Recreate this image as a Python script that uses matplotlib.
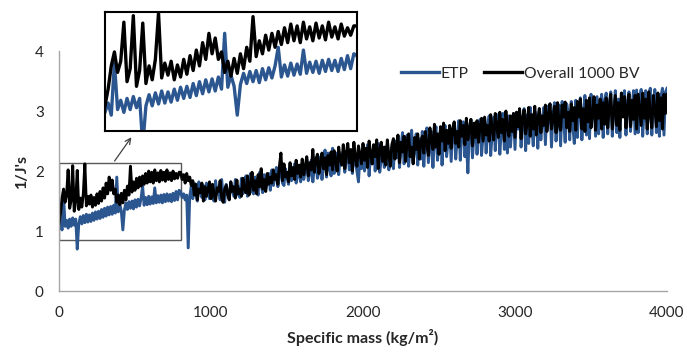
import numpy as np
import matplotlib
matplotlib.use("Agg")
import matplotlib.pyplot as plt
from matplotlib.patches import Rectangle

plt.rcParams['font.family'] = ['Lato', 'DejaVu Sans']

# specific mass sampled every 10 kg/m2
mass = np.arange(0, 4001, 10)

etp_early = [
    1.05, 1.15, 1.02, 1.58, 1.08, 1.18, 1.05, 1.20, 1.08, 1.22,
    1.10, 1.20, 0.70, 1.12, 1.24, 1.12, 1.26, 1.14, 1.28, 1.15,
    1.27, 1.16, 1.30, 1.18, 1.32, 1.20, 1.33, 1.21, 1.36, 1.23,
    1.38, 1.25, 1.40, 1.27, 1.41, 1.28, 1.43, 1.30, 1.90, 1.32,
    1.45, 1.33, 1.02, 1.35, 1.47, 1.36, 1.49, 1.38, 1.50, 1.37,
    1.52, 1.40, 1.53, 1.42, 1.55, 1.75, 1.43, 1.56, 1.44, 1.58,
    1.45, 1.57, 1.46, 1.72, 1.47, 1.59, 1.48, 1.60, 1.47, 1.61,
    1.49, 1.62, 1.50, 1.61, 1.49, 1.63, 1.51, 1.66, 1.52, 1.68,
]
etp_late = [
    1.66, 1.56, 1.62, 1.52, 1.60, 0.72, 1.58, 1.74, 1.54, 1.80, 1.62, 1.50, 1.82, 1.68, 1.56, 1.76, 1.52, 1.80, 1.64, 1.54,
    1.76, 1.56, 1.50, 1.84, 1.62, 1.70, 1.52, 1.86, 1.58, 1.48, 1.78, 1.64, 1.54, 1.82, 1.70, 1.58, 1.86, 1.60, 1.74, 1.56,
    1.88, 1.62, 1.74, 1.92, 1.58, 1.80, 1.96, 1.66, 1.62, 1.90, 1.72, 1.60, 1.98, 1.76, 1.64, 1.94, 1.70, 1.82, 1.96, 1.68,
    2.02, 1.76, 1.88, 2.06, 1.74, 1.94, 2.08, 1.80, 1.76, 2.04, 1.90, 1.78, 2.10, 1.84, 1.96, 2.12, 1.80, 1.92, 2.08, 1.82,
    2.14, 1.86, 2.00, 2.20, 1.84, 1.96, 2.18, 1.82, 2.06, 2.22, 1.88, 1.98, 2.24, 1.86, 2.12, 2.35, 1.90, 2.30, 2.04, 1.92,
    2.38, 1.96, 2.16, 2.30, 1.94, 2.24, 2.10, 2.32, 1.98, 2.20, 2.36, 2.02, 2.28, 1.96, 2.34, 2.14, 2.00, 1.82, 2.26, 2.04,
    2.38, 2.00, 2.22, 2.44, 1.92, 2.30, 2.12, 2.42, 2.00, 2.34, 2.46, 1.98, 2.20, 2.40, 2.06, 2.32, 2.44, 2.02, 2.26, 2.40,
    2.04, 2.50, 2.22, 2.58, 2.06, 2.40, 2.64, 2.12, 2.30, 2.60, 2.08, 2.48, 2.68, 2.14, 2.36, 2.62, 2.10, 2.54, 2.20, 2.66,
    2.08, 2.52, 2.72, 2.14, 2.40, 2.66, 2.06, 2.56, 2.74, 2.18, 2.46, 2.70, 2.10, 2.62, 2.76, 2.24, 2.50, 2.72, 2.16, 2.68,
    2.80, 2.20, 2.56, 2.84, 2.18, 2.66, 2.82, 2.24, 2.50, 1.97, 2.74, 2.86, 2.22, 2.60, 2.80, 2.28, 2.70, 2.86, 2.26, 2.62,
    2.88, 2.30, 2.74, 2.92, 2.26, 2.64, 2.90, 2.34, 2.80, 2.94, 2.28, 2.70, 2.96, 2.36, 2.84, 2.30, 2.92, 2.40, 2.78, 2.96,
    2.36, 2.98, 2.70, 3.02, 2.40, 2.86, 3.04, 2.34, 2.94, 2.46, 3.06, 2.76, 2.42, 3.00, 2.90, 2.38, 3.04, 2.52, 2.88, 3.06,
    2.44, 3.08, 2.80, 3.12, 2.40, 2.96, 3.14, 2.50, 2.88, 3.10, 2.42, 3.16, 2.84, 2.48, 3.12, 2.98, 2.52, 3.16, 2.76, 2.46,
    3.18, 2.56, 3.02, 3.22, 2.52, 2.94, 3.26, 2.60, 3.10, 2.54, 3.28, 2.88, 3.20, 2.58, 3.24, 2.62, 3.06, 3.28, 2.56, 3.18,
    3.30, 2.62, 3.12, 3.32, 2.58, 3.00, 3.34, 2.64, 3.20, 2.56, 3.30, 2.96, 3.34, 2.60, 3.16, 3.32, 2.66, 3.08, 3.34, 2.62,
    3.35, 2.64, 3.18, 3.36, 2.58, 3.04, 3.34, 2.62, 3.26, 3.38, 2.60, 3.12, 3.36, 2.64, 3.30, 2.58, 3.24, 3.38, 2.60, 3.32,
    3.38,
]

bv_early = [
    1.12, 1.30, 1.55, 1.70, 1.48, 1.60, 2.02, 1.38, 1.52, 2.09,
    1.33, 1.50, 2.01, 1.36, 1.55, 1.40, 1.62, 2.12, 1.42, 1.58,
    1.45, 1.60, 1.40, 1.56, 1.43, 1.62, 1.46, 1.66, 1.50, 1.72,
    1.55, 1.80, 1.62, 1.90, 1.68, 1.85, 1.62, 1.70, 1.48, 1.60,
    1.44, 1.63, 1.47, 1.68, 1.52, 1.75, 1.60, 2.08, 1.65, 1.82,
    1.68, 1.88, 1.72, 1.90, 1.75, 1.92, 1.78, 1.96, 1.80, 2.00,
    1.82, 1.98, 1.80, 2.02, 1.84, 1.97, 1.82, 2.01, 1.85, 1.98,
    1.83, 2.02, 1.86, 1.97, 1.84, 2.00, 1.87, 1.96, 1.88, 1.98,
]
bv_late = [
    1.98, 1.86, 1.94, 1.80, 1.96, 1.84, 1.90, 1.76, 1.84, 1.60, 1.78, 1.52, 1.70, 1.64, 1.80, 1.50, 1.74, 1.58, 1.68, 1.82,
    1.54, 1.78, 1.62, 1.50, 1.72, 1.66, 1.84, 1.56, 1.48, 1.70, 1.76, 1.60, 1.52, 1.82, 1.66, 1.74, 1.55, 1.85, 1.62, 1.70,
    1.58, 1.88, 1.70, 1.64, 1.92, 1.60, 1.76, 1.98, 1.68, 1.84, 1.62, 1.94, 1.74, 2.04, 1.70, 1.86, 1.66, 1.96, 1.78, 1.90,
    1.80, 2.02, 1.86, 1.94, 1.78, 2.08, 2.30, 1.84, 2.12, 1.90, 1.98, 1.82, 2.14, 1.92, 2.06, 1.86, 2.18, 1.96, 2.10, 1.90,
    2.20, 1.94, 2.08, 2.24, 1.92, 2.14, 2.02, 2.36, 1.98, 2.18, 2.28, 1.96, 2.12, 2.30, 2.04, 2.22, 1.94, 2.26, 2.10, 2.32,
    2.02, 2.34, 2.16, 2.00, 2.40, 2.20, 2.10, 2.44, 2.04, 2.30, 2.46, 2.14, 2.36, 2.00, 2.48, 2.22, 2.08, 2.42, 2.28, 2.12,
    2.46, 2.18, 2.38, 2.06, 2.50, 2.30, 2.12, 2.44, 2.24, 2.52, 2.04, 2.36, 2.48, 2.16, 2.40, 2.10, 2.52, 2.26, 2.08, 2.44,
    2.54, 2.20, 2.42, 2.60, 2.14, 2.48, 2.32, 2.58, 2.16, 2.50, 2.62, 2.24, 2.40, 2.12, 2.56, 2.36, 2.62, 2.20, 2.48, 2.58,
    2.30, 2.66, 2.44, 2.26, 2.72, 2.52, 2.36, 2.78, 2.40, 2.62, 2.28, 2.74, 2.50, 2.80, 2.34, 2.68, 2.46, 2.76, 2.38, 2.70,
    2.82, 2.46, 2.66, 2.40, 2.84, 2.58, 2.76, 2.44, 2.88, 2.52, 2.70, 2.86, 2.42, 2.80, 2.56, 2.84, 2.48, 2.74, 2.88, 2.50,
    2.90, 2.60, 2.76, 2.50, 2.94, 2.68, 2.52, 2.96, 2.74, 2.56, 2.98, 2.64, 2.86, 2.50, 3.00, 2.72, 2.58, 2.92, 2.66, 2.96,
    2.56, 2.98, 2.74, 3.04, 2.54, 2.88, 3.02, 2.62, 2.80, 3.06, 2.58, 2.94, 2.70, 3.08, 2.60, 2.86, 3.04, 2.64, 2.92, 2.76,
    3.10, 2.66, 2.94, 3.12, 2.70, 2.86, 3.08, 2.64, 3.14, 2.78, 2.68, 3.10, 2.90, 3.15, 2.72, 2.98, 2.66, 3.12, 2.84, 3.06,
    2.68, 3.16, 2.90, 3.20, 2.70, 3.04, 2.66, 3.18, 2.82, 3.22, 2.72, 2.96, 3.24, 2.68, 3.10, 2.88, 3.20, 2.70, 3.14, 2.78,
    3.22, 2.72, 3.08, 3.28, 2.70, 2.98, 3.26, 2.76, 3.14, 2.68, 3.30, 2.90, 3.24, 2.72, 3.06, 3.28, 2.74, 3.18, 2.86, 3.26,
    2.70, 3.28, 3.02, 2.76, 3.30, 2.88, 3.20, 2.70, 3.32, 2.94, 2.72, 3.26, 3.06, 2.74, 3.30, 2.84, 3.22, 2.70, 3.28, 2.96,
    3.28,
]

etp = np.array(etp_early + etp_late)
bv = np.array(bv_early + bv_late)

blue = '#2B5690'
axis_grey = '#A6A6A6'
txt = '#262626'

fig = plt.figure(figsize=(6.87, 3.52), dpi=100)
ax = fig.add_axes([0.0859, 0.173, 0.885, 0.682])

ax.plot(mass, etp, color=blue, lw=2.1, label='ETP')
ax.plot(mass, bv, color='black', lw=2.1, label='Overall 1000 BV')

ax.set_xlim(0, 4000)
ax.set_ylim(0, 4)
ax.set_xticks([0, 1000, 2000, 3000, 4000])
ax.set_yticks([0, 1, 2, 3, 4])
ax.tick_params(length=0, labelsize=11, colors=txt)
ax.tick_params(axis='x', pad=11)
ax.tick_params(axis='y', pad=11)
for s in ['top', 'right']:
    ax.spines[s].set_visible(False)
for s in ['left', 'bottom']:
    ax.spines[s].set_color(axis_grey)
    ax.spines[s].set_linewidth(1)

ax.set_xlabel('Specific mass (kg/m²)', fontsize=11.5, fontweight='bold', color=txt, labelpad=6)
ax.set_ylabel("1/J's", fontsize=11.5, fontweight='bold', color=txt, labelpad=4)

leg = ax.legend(loc='center left', bbox_to_anchor=(0.54, 0.905), ncol=2, frameon=False,
                fontsize=11.3, handlelength=2.4, handletextpad=0.1, columnspacing=1.0,
                labelcolor=txt)
for h in leg.get_lines():
    h.set_linewidth(2.4)

# box around the zoomed region
ax.add_patch(Rectangle((0, 0.85), 805, 1.28, fill=False, edgecolor='#595959', lw=1))

# inset
ins = fig.add_axes([0.1528, 0.628, 0.3668, 0.338])
ins.plot(mass, etp, color=blue, lw=2.4)
ins.plot(mass, bv, color='black', lw=2.4)
ins.set_xlim(0, 800)
ins.set_ylim(0.85, 2.13)
ins.set_xticks([])
ins.set_yticks([])
for s in ins.spines.values():
    s.set_color('black')
    s.set_linewidth(1.5)

ax.annotate('', xy=(0.1936, 0.6165), xycoords='figure fraction',
            xytext=(355, 2.13), textcoords='data',
            arrowprops=dict(arrowstyle='->', color='#404040', lw=0.9))

fig.savefig('out.png', dpi=100)
